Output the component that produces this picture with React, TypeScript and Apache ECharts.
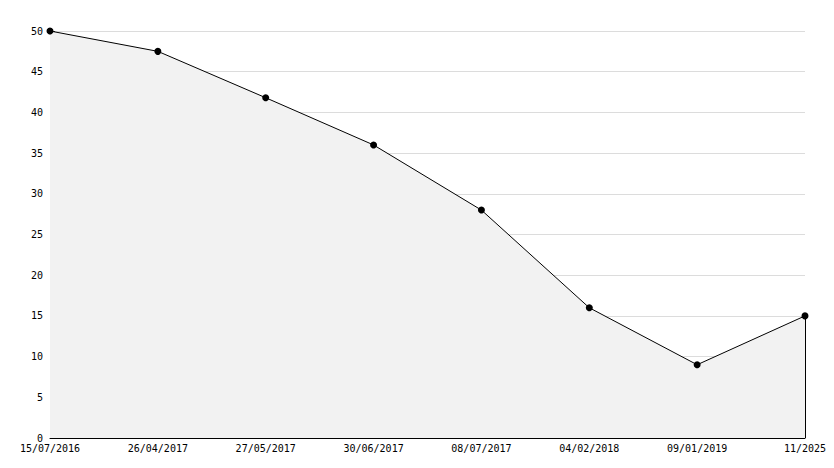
import React, { useEffect, useRef } from "react";
import * as echarts from "echarts";

const categories = ["15/07/2016", "26/04/2017", "27/05/2017", "30/06/2017", "08/07/2017", "04/02/2018", "09/01/2019", "11/2025"];
const values = [50, 47.5, 41.8, 36, 28, 16, 9, 15];
const yMin = 0;
const yMax = 50;
const yInterval = 5;

export default function App() {
  const ref = useRef<HTMLDivElement>(null);
  useEffect(() => {
    if (!ref.current) return;
    const chart = echarts.init(ref.current, null, { renderer: "svg" });
    const font = { fontFamily: "DejaVu Sans Mono", fontSize: 10, color: "#000" };
    const lastIdx = categories.length - 1;
    chart.setOption({
      animation: false,
      backgroundColor: "#fff",
      grid: { left: 50, right: 29, top: 31, bottom: 30, containLabel: false },
      xAxis: {
        type: "category",
        data: categories,
        boundaryGap: false,
        axisLine: { show: true, lineStyle: { color: "#000", width: 1 } },
        axisTick: { show: true, inside: true, length: 5, alignWithLabel: true, lineStyle: { color: "#000" } },
        axisLabel: { ...font, margin: 5, showMinLabel: true, showMaxLabel: true, interval: 0 },
        splitLine: { show: false },
      },
      yAxis: {
        type: "value",
        min: yMin,
        max: yMax,
        interval: yInterval,
        axisLine: { show: true, lineStyle: { color: "#000", width: 1 } },
        axisTick: { show: true, inside: true, length: 5, lineStyle: { color: "#000" } },
        minorTick: { show: true, splitNumber: 5, length: 3, lineStyle: { color: "#000" } },
        axisLabel: { ...font, margin: 7 },
        splitLine: { show: true, lineStyle: { color: "#dcdcdc", width: 1 } },
      },
      series: [
        {
          type: "line",
          data: values,
          symbol: "circle",
          symbolSize: 7,
          itemStyle: { color: "#000" },
          lineStyle: { color: "#000", width: 1 },
          areaStyle: { color: "#f2f2f2", opacity: 1 },
          markLine: {
            silent: true,
            symbol: ["none", "none"],
            label: { show: false },
            lineStyle: { color: "#000", width: 1, type: "solid" },
            data: [[{ coord: [lastIdx, yMin] }, { coord: [lastIdx, values[lastIdx]] }]],
          },
        },
      ],
    });
    return () => chart.dispose();
  }, []);
  return <div ref={ref} style={{ position: "fixed", left: 0, top: 0, width: 834, height: 468 }} />;
}
